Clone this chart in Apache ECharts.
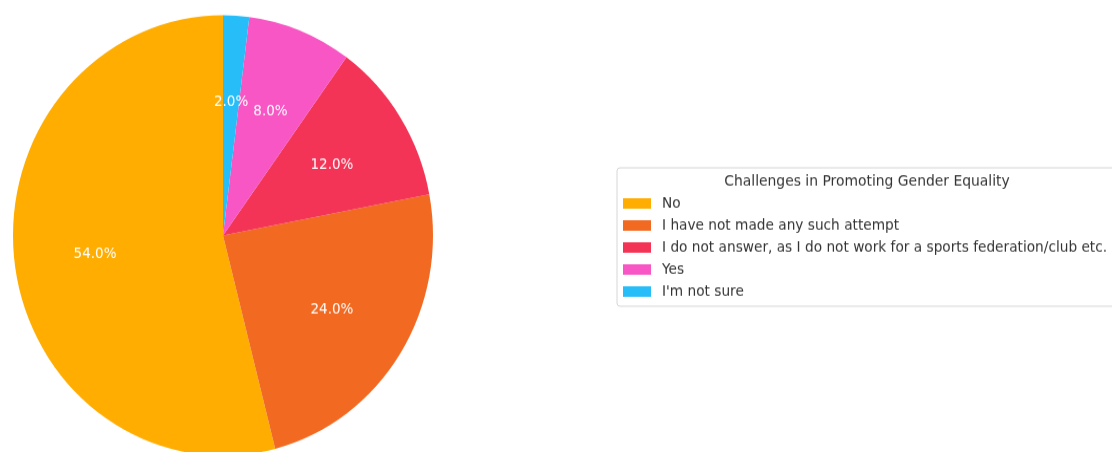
<!DOCTYPE html>
<html>
<head>
<meta charset="utf-8">
<script src="https://cdn.jsdelivr.net/npm/echarts@6/dist/echarts.min.js"></script>
<style>
html,body{margin:0;padding:0;background:#fff;overflow:hidden;}
#wrap{width:1112px;height:452px;overflow:hidden;}
#chart{width:1112px;height:431px;transform:scale(1,1.0487);transform-origin:0 0;}
</style>
</head>
<body>
<div id="wrap"><div id="chart"></div></div>
<script>
const legendTitle = 'Challenges in Promoting Gender Equality';
const categories = ['No', 'I have not made any such attempt', 'I do not answer, as I do not work for a sports federation/club etc.', 'Yes', "I'm not sure"];
const values = [54, 24, 12, 8, 2];
const colors = ['#FFAD00', '#F26A22', '#F43456', '#F756C4', '#26BDF8'];

const R = 210;
const font = 'DejaVu Sans';

const chart = echarts.init(document.getElementById('chart'), null, {renderer: 'canvas'});
chart.setOption({
  animation: false,
  backgroundColor: '#fff',
  title: {
    text: legendTitle,
    left: 867,
    top: 166.5,
    padding: 0,
    textAlign: 'center',
    textStyle: {fontFamily: font, fontSize: 13.9, fontWeight: 'normal', color: '#333'}
  },
  legend: {
    orient: 'vertical',
    left: 617,
    top: 160,
    padding: [27, 12, 7, 6],
    itemWidth: 28,
    itemHeight: 10,
    itemGap: 7,
    borderColor: '#d6d6d6',
    borderWidth: 1,
    borderRadius: 3,
    backgroundColor: '#fff',
    icon: 'rect',
    selectedMode: false,
    textStyle: {fontFamily: font, fontSize: 13.7, color: '#333', padding: [0, 0, 0, 6]},
    data: categories.map((n, i) => ({name: n, itemStyle: {color: colors[i]}}))
  },
  series: [
    {
      type: 'pie',
      center: [223, 224.5],
      radius: [0, R],
      startAngle: 90,
      clockwise: false,
      silent: true,
      label: {show: false},
      labelLine: {show: false},
      itemStyle: {borderWidth: 0},
      data: categories.map((n, i) => ({name: n, value: values[i], itemStyle: {color: colors[i]}}))
    },
    {
      type: 'pie',
      center: [223, 224.5],
      radius: [0, R * 1.2],
      startAngle: 90,
      clockwise: false,
      silent: true,
      itemStyle: {color: 'rgba(0,0,0,0)', borderWidth: 0},
      label: {
        show: true,
        position: 'inside',
        fontFamily: font,
        fontSize: 13.5,
        color: '#fff',
        offset: [0, 2],
        formatter: p => p.percent.toFixed(1) + '%'
      },
      labelLine: {show: false},
      data: categories.map((n, i) => ({name: n, value: values[i]}))
    }
  ]
});
</script>
</body>
</html>
